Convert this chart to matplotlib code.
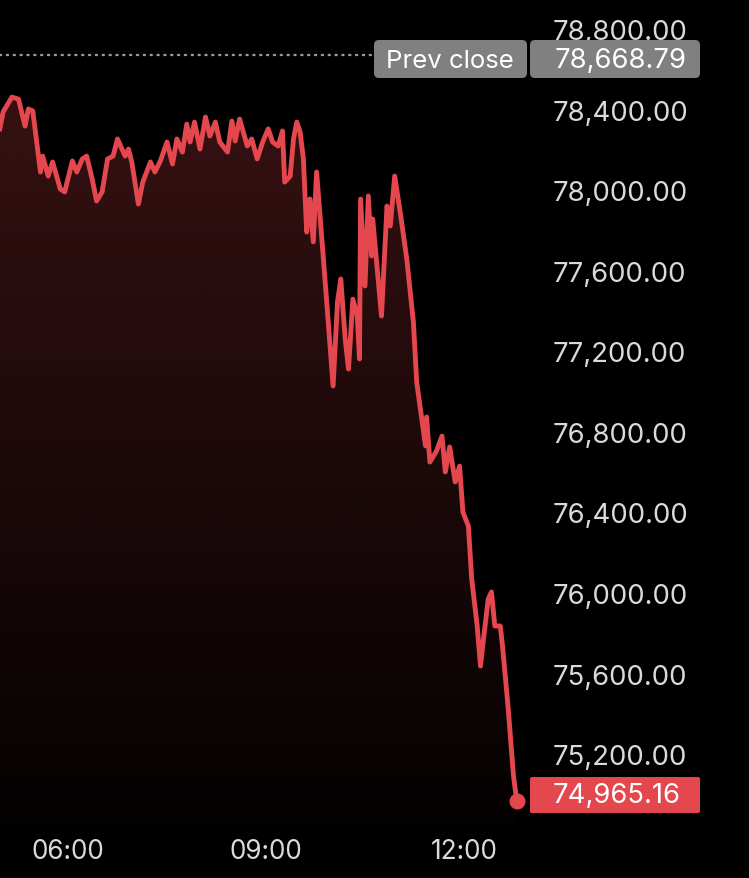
import matplotlib
matplotlib.use("Agg")
import matplotlib.pyplot as plt
import numpy as np
from matplotlib.patches import FancyBboxPatch

# ---- data (minutes since midnight, index value) ----
minutes = [298, 301, 309, 315, 321, 324, 328, 335, 337, 342, 346, 353, 357, 364, 368,
           373, 377, 382, 386, 391, 396, 401, 405, 412, 415, 418, 424, 428, 435, 439,
           444, 450, 455, 459, 464, 468, 471, 475, 480, 485, 489, 494, 498, 505, 509,
           512, 516, 523, 527, 532, 537, 542, 546, 551, 555, 557, 562, 565, 568, 571,
           574, 577, 580, 583, 586, 591, 595, 601, 605, 608, 612, 615, 619, 623, 625,
           626, 630, 633, 636, 637, 645, 650, 653, 657, 662, 668, 674, 677, 685, 686,
           689, 695, 700, 703, 707, 712, 716, 719, 724, 727, 732, 735, 737, 742, 745,
           748, 753, 755, 760, 765, 768]
values = [78304, 78388, 78462, 78452, 78318, 78403, 78393, 78090, 78169, 78070, 78140,
          78006, 77991, 78145, 78090, 78155, 78169, 78055, 77946, 77991, 78155, 78169,
          78254, 78169, 78204, 78140, 77931, 78040, 78140, 78090, 78145, 78239, 78130,
          78254, 78189, 78328, 78239, 78338, 78204, 78363, 78269, 78338, 78239, 78189,
          78343, 78244, 78353, 78219, 78254, 78155, 78239, 78304, 78239, 78219, 78294,
          78040, 78070, 78254, 78338, 78289, 78155, 77792, 77956, 77743, 78090, 77743,
          77459, 77028, 77445, 77559, 77261, 77112, 77459, 77375, 77162, 77956, 77524,
          77971, 77673, 77857, 77375, 77921, 77822, 78070, 77891, 77658, 77345, 77047,
          76730, 76874, 76650, 76705, 76779, 76601, 76725, 76551, 76630, 76402, 76332,
          76069, 75836, 75637, 75737, 75970, 76005, 75836, 75836, 75737, 75439, 75091,
          74965.16]
prev_close = 78668.79
last_price = 74965.16
y_ticks = [75200, 75600, 76000, 76400, 76800, 77200, 77600, 78000, 78400, 78800]
x_ticks = [360, 540, 720]
x_tick_labels = ["06:00", "09:00", "12:00"]

# ---- style ----
W, H = 749, 879
RED = "#e4474d"
GREY_BOX = "#808080"
TXT = "#dadada"
FONT = ["Inter", "DejaVu Sans"]
FS = 19.8
FSX = 18.8

plt.rcParams['font.family'] = FONT

fig = plt.figure(figsize=(W / 100, H / 100), dpi=100, facecolor="black")
ax = fig.add_axes([0, 1 - 825 / H, 530 / W, 825 / H])
ax.set_facecolor("black")

x = np.array(minutes, dtype=float)
y = np.array(values, dtype=float)

ax.set_xlim(298.2, 780.0)
ax.set_ylim(74853, 78949)

# gradient fill under the line
poly = ax.fill_between(x, y, 74853, facecolor="none", edgecolor="none")
grad = np.zeros((256, 1, 4))
rgb = matplotlib.colors.to_rgb(RED)
grad[:, 0, 0:3] = rgb
grad[:, 0, 3] = np.linspace(0.27, 0.02, 256)
img = ax.imshow(grad, aspect="auto", extent=[298.2, 780.0, 74853, 78949],
                origin="upper", zorder=1, interpolation="bilinear")
path = poly.get_paths()[0]
img.set_clip_path(path, transform=ax.transData)

ax.plot(x, y, color=RED, lw=3.5, solid_joinstyle="round", zorder=3)
ax.plot([x[-1]], [y[-1]], "o", color=RED, ms=10.5, zorder=4)

# prev close dotted line
ax.plot([298.2, 636], [prev_close, prev_close], color="#9a9a9a", lw=1.7,
        linestyle=(0, (0.5, 2.4)), dash_capstyle="round", zorder=2)

for s in ax.spines.values():
    s.set_visible(False)
ax.yaxis.tick_right()
ax.set_yticks(y_ticks)
ax.set_yticklabels([f"{v:,.2f}" for v in y_ticks], color=TXT, fontsize=FS)
ax.tick_params(axis="y", length=0, pad=16)
ax.set_xticks(x_ticks)
ax.set_xticklabels(x_tick_labels, color=TXT, fontsize=FSX)
ax.tick_params(axis="x", length=0, pad=10)
ax.grid(False)


def px_box(x0, y0, x1, y1, color, r=4):
    p = FancyBboxPatch((x0, H - y1), x1 - x0, y1 - y0,
                       boxstyle=f"round,pad=0,rounding_size={r}",
                       transform=None, facecolor=color, edgecolor="none", zorder=5)
    fig.patches.append(p)


px_box(374, 41, 527, 79, GREY_BOX, r=5)
px_box(530, 41, 700, 79, GREY_BOX, r=5)
fig.text(450 / W, 1 - 61 / H, "Prev close", color="white", fontsize=18.6,
         ha="center", va="center", zorder=6)
fig.text(555 / W, 1 - 61 / H, f"{prev_close:,.2f}", color="white", fontsize=FS,
         ha="left", va="center", zorder=6)

px_box(530, 778, 700, 814, RED, r=2)
fig.text(553 / W, 1 - 796 / H, f"{last_price:,.2f}", color="white", fontsize=FS,
         ha="left", va="center", zorder=6)

fig.savefig("out.png", dpi=100, facecolor="black")
